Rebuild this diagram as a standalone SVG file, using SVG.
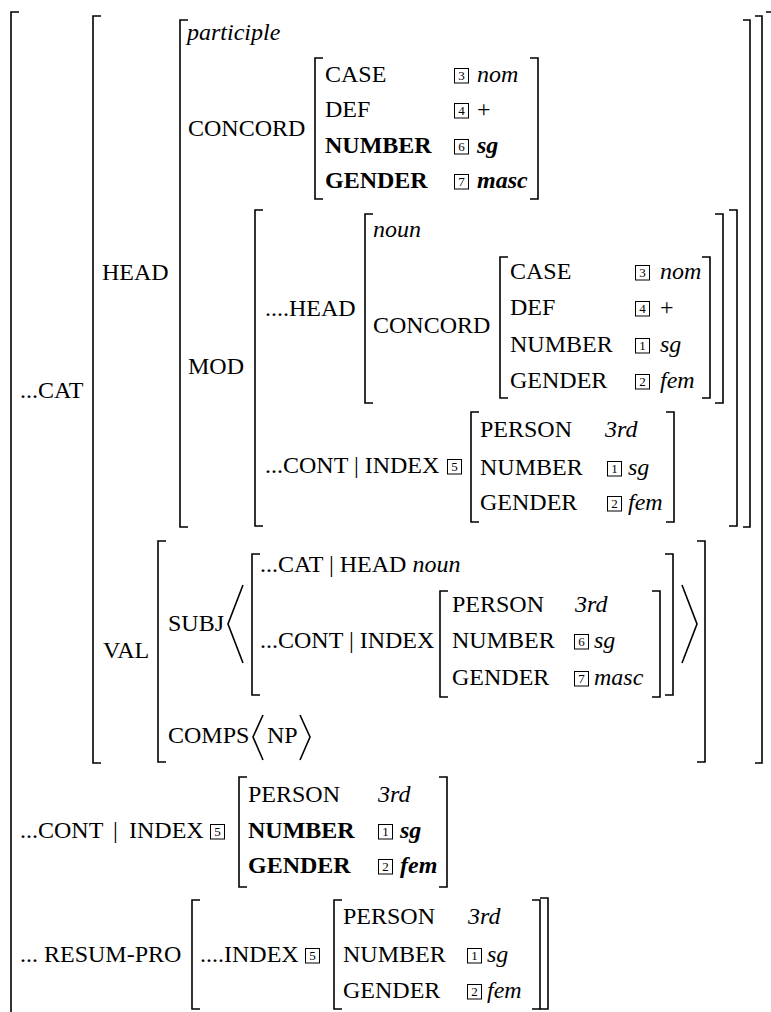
<svg xmlns="http://www.w3.org/2000/svg" width="771" height="1012" viewBox="0 0 771 1012">
<style>
text{font-family:"Liberation Serif",Tinos,"Times New Roman",Times,"Nimbus Roman","Nimbus Roman No9 L",FreeSerif,"DejaVu Serif","Noto Serif",serif;font-size:24px;fill:#000}
.i{font-style:italic}
.b{font-weight:bold}
.bi{font-weight:bold;font-style:italic}
.br{fill:none;stroke:#000;stroke-width:1.6}
.bx{fill:none;stroke:#000;stroke-width:1}
.tg{font-size:13px;text-anchor:middle}
</style>
<defs>
<g id="box"><rect class="bx" x="0.5" y="-13.5" width="14" height="14.5"/></g>
</defs>
<rect width="771" height="1012" fill="#fff"/>

<g id="brackets">
<path class="br" d="M19,12 H11 V1020"/>
<path class="br" d="M766,12 H772 V1020"/>
<path class="br" d="M101,16 H93 V763 H101"/>
<path class="br" d="M755,16 H762 V763 H755"/>
<path class="br" d="M188,20 H180 V527 H188"/>
<path class="br" d="M743,20 H750 V527 H743"/>
<path class="br" d="M323,58 H315 V199 H323"/>
<path class="br" d="M530,58 H538 V199 H530"/>
<path class="br" d="M263,210 H255 V526 H263"/>
<path class="br" d="M729,210 H737 V526 H729"/>
<path class="br" d="M373,214 H365 V403 H373"/>
<path class="br" d="M715,214 H723 V403 H715"/>
<path class="br" d="M508,257 H500 V398 H508"/>
<path class="br" d="M702,257 H710 V398 H702"/>
<path class="br" d="M479,412 H471 V522 H479"/>
<path class="br" d="M666,412 H674 V522 H666"/>
<path class="br" d="M166,541 H158 V762 H166"/>
<path class="br" d="M697,541 H705 V762 H697"/>
<path class="br" d="M260,554 H252 V695 H260"/>
<path class="br" d="M665,554 H673 V695 H665"/>
<path class="br" d="M448,591 H440 V697 H448"/>
<path class="br" d="M652,591 H660 V697 H652"/>
<path class="br" d="M243,585 L228,624 L243,663"/>
<path class="br" d="M682,585 L697,624 L682,663"/>
<path class="br" d="M263,715 L253,737 L263,760"/>
<path class="br" d="M300,715 L310,737 L300,760"/>
<path class="br" d="M247,777 H239 V887 H247"/>
<path class="br" d="M439,777 H447 V887 H439"/>
<path class="br" d="M200,900 H192 V1009 H200"/>
<path class="br" d="M540,898 H548 V1009 H540"/>
<path class="br" d="M342,900 H334 V1009 H342"/>
<path class="br" d="M532,900 H540 V1009 H532"/>
</g>

<g id="cat">
<text x="20" y="398">...CAT</text>
<text x="102" y="280">HEAD</text>
<text x="103" y="658">VAL</text>
</g>

<g id="head">
<text class="i" x="187" y="40">participle</text>
<text x="188" y="136">CONCORD</text>
<text x="188" y="374">MOD</text>
</g>

<g id="concord-top">
<text x="325" y="82">CASE</text>
<text x="325" y="117">DEF</text>
<text class="b" x="325" y="153">NUMBER</text>
<text class="b" x="325" y="188">GENDER</text>
<use href="#box" x="454" y="82"/><text class="tg" x="461.5" y="80">3</text>
<use href="#box" x="454" y="117"/><text class="tg" x="461.5" y="115">4</text>
<use href="#box" x="454" y="153"/><text class="tg" x="461.5" y="151">6</text>
<use href="#box" x="454" y="188"/><text class="tg" x="461.5" y="186">7</text>
<text class="i" x="477" y="82">nom</text>
<text x="477" y="117">+</text>
<text class="bi" x="477" y="153">sg</text>
<text class="bi" x="477" y="188">masc</text>
</g>

<g id="mod">
<text x="265" y="316">....HEAD</text>
<text class="i" x="373" y="237">noun</text>
<text x="373" y="333">CONCORD</text>
<text x="265" y="473">...CONT | INDEX</text>
<use href="#box" x="447" y="473"/><text class="tg" x="454.5" y="471">5</text>
</g>

<g id="concord-inner">
<text x="510" y="279">CASE</text>
<text x="510" y="315">DEF</text>
<text x="510" y="352">NUMBER</text>
<text x="510" y="388">GENDER</text>
<use href="#box" x="635" y="279"/><text class="tg" x="642.5" y="277">3</text>
<use href="#box" x="635" y="315"/><text class="tg" x="642.5" y="313">4</text>
<use href="#box" x="635" y="352"/><text class="tg" x="642.5" y="350">1</text>
<use href="#box" x="635" y="388"/><text class="tg" x="642.5" y="386">2</text>
<text class="i" x="660" y="279">nom</text>
<text x="660" y="315">+</text>
<text class="i" x="660" y="352">sg</text>
<text class="i" x="660" y="388">fem</text>
</g>

<g id="mod-index">
<text x="480" y="437">PERSON</text>
<text x="480" y="475">NUMBER</text>
<text x="480" y="510">GENDER</text>
<text class="i" x="605" y="437">3rd</text>
<use href="#box" x="607" y="475"/><text class="tg" x="614.5" y="473">1</text>
<use href="#box" x="607" y="510"/><text class="tg" x="614.5" y="508">2</text>
<text class="i" x="628" y="475">sg</text>
<text class="i" x="628" y="510">fem</text>
</g>

<g id="val">
<text x="168" y="631">SUBJ</text>
<text x="168" y="743">COMPS</text>
<text x="267" y="743">NP</text>
<text x="260" y="572">...CAT | HEAD <tspan class="i">noun</tspan></text>
<text x="260" y="648">...CONT | INDEX</text>
</g>

<g id="subj-index">
<text x="452" y="612">PERSON</text>
<text x="452" y="648">NUMBER</text>
<text x="452" y="685">GENDER</text>
<text class="i" x="575" y="612">3rd</text>
<use href="#box" x="574" y="648"/><text class="tg" x="581.5" y="646">6</text>
<use href="#box" x="574" y="685"/><text class="tg" x="581.5" y="683">7</text>
<text class="i" x="594" y="648">sg</text>
<text class="i" x="594" y="685">masc</text>
</g>

<g id="cont">
<text x="20" y="838">...CONT</text>
<text x="113" y="838">|</text>
<text x="129" y="838">INDEX</text>
<use href="#box" x="210" y="838"/><text class="tg" x="217.5" y="836">5</text>
<text x="248" y="802">PERSON</text>
<text class="b" x="248" y="838">NUMBER</text>
<text class="b" x="248" y="873">GENDER</text>
<text class="i" x="378" y="802">3rd</text>
<use href="#box" x="378" y="838"/><text class="tg" x="385.5" y="836">1</text>
<use href="#box" x="378" y="873"/><text class="tg" x="385.5" y="871">2</text>
<text class="bi" x="400" y="838">sg</text>
<text class="bi" x="400" y="873">fem</text>
</g>

<g id="resum">
<text x="20" y="962">... RESUM-PRO</text>
<text x="200" y="962">....INDEX</text>
<use href="#box" x="305" y="962"/><text class="tg" x="312.5" y="960">5</text>
<text x="343" y="924">PERSON</text>
<text x="343" y="962">NUMBER</text>
<text x="343" y="998">GENDER</text>
<text class="i" x="468" y="924">3rd</text>
<use href="#box" x="467" y="962"/><text class="tg" x="474.5" y="960">1</text>
<use href="#box" x="467" y="998"/><text class="tg" x="474.5" y="996">2</text>
<text class="i" x="487" y="962">sg</text>
<text class="i" x="487" y="998">fem</text>
</g>
</svg>
